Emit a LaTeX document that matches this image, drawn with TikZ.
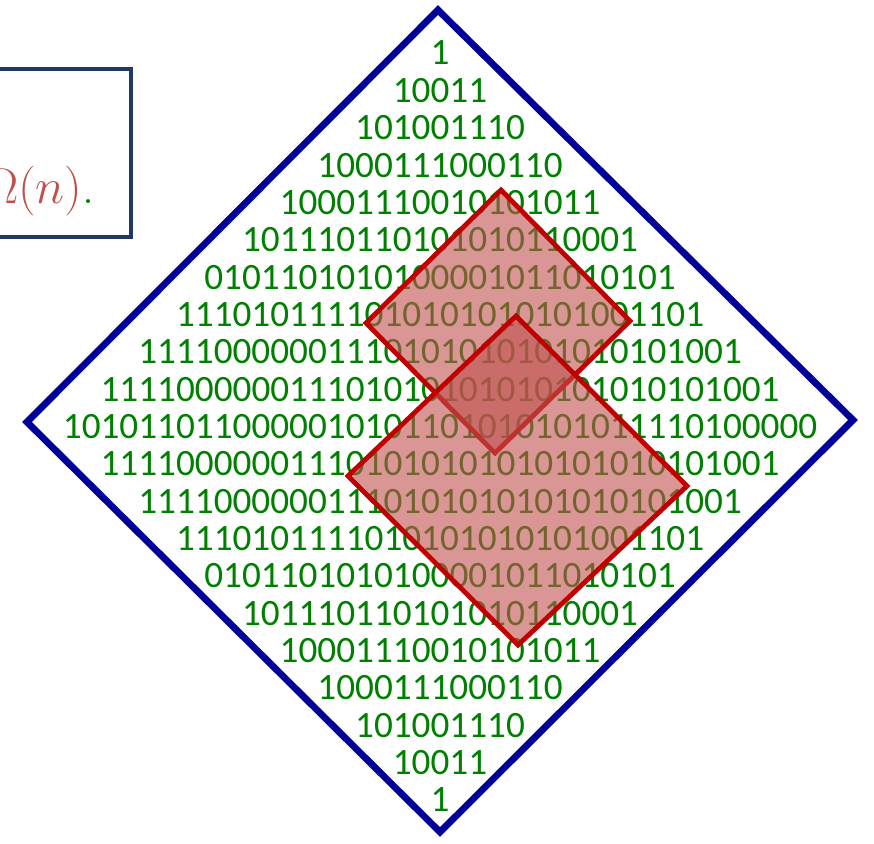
\documentclass[tikz,border=0pt]{standalone}
\usepackage{fontspec}
\newfontfamily\bitfont{Carlito}
\definecolor{bitgreen}{RGB}{0,128,0}
\definecolor{framenavy}{RGB}{0,0,153}
\definecolor{boxnavy}{RGB}{31,56,100}
\definecolor{boundred}{RGB}{192,80,77}
\definecolor{winred}{RGB}{192,0,0}
\definecolor{winfill}{RGB}{192,80,77}
\begin{document}
\begin{tikzpicture}[x=0.5pt,y=-0.5pt,
      bitrow/.style={
        % The text:
        font=\bitfont\fontsize{18.6}{18.7}\selectfont,text=bitgreen,
        % The rest
        inner sep=0pt},
      frame/.style={line width=3.4pt,draw=framenavy,line join=miter},
      window/.style={line width=2.4pt,draw=winred,fill=winfill,fill opacity=0.6,line join=miter},
      boundbox/.style={line width=2.2pt,draw=boxnavy}]
    \useasboundingbox (0,0) rectangle (874,843);
    % left box, cut by the page edge
    \draw[boundbox] (-20,69) rectangle (131,237);
    \node(bound)[anchor=base east, inner sep=0pt, text=bitgreen,
      font=\fontsize{24}{28}\selectfont] at (95,203) {\textcolor{boundred}{$\Omega(n)$}.};
    % outer diamond
    \draw[frame] (438,10) -- (853,420) -- (440,832) -- (27,422) -- cycle;
    % the rows of bits
    \foreach \bits [count=\i] in {1,10011,101001110,1000111000110,10001110010101011,
        101110110101010110001,0101101010100001011010101,1110101111010101010101001101,
        11110000001110101010101010101001,111100000011101010101010101010101001,
        1010110110000010101101010101011110100000,
        111100000011101010101010101010101001,11110000001110101010101010101001,
        1110101111010101010101001101,0101101010100001011010101,101110110101010110001,
        10001110010101011,1000111000110,101001110,10011,1}
      \node(row\i)[bitrow] at (440,{53+37.35*(\i-1)}) {\bits};
    % the two windows
    \draw[window] (501,190) -- (630,321) -- (495,453) -- (366,323) -- cycle;
    \draw[window] (516,316) -- (687,486) -- (518,645) -- (348,476) -- cycle;
  \end{tikzpicture}
\end{document}
